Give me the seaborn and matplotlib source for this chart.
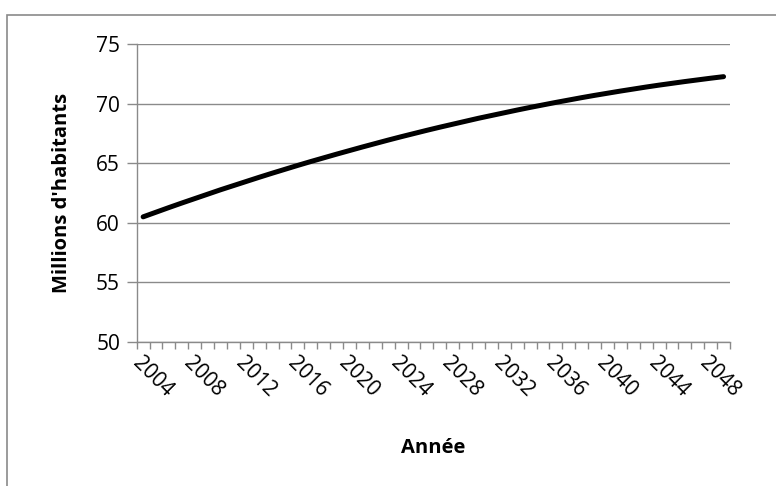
import numpy as np
import pandas as pd
import matplotlib
matplotlib.use("Agg")
import matplotlib.pyplot as plt
from matplotlib.patches import Rectangle
from matplotlib.ticker import FixedLocator
import seaborn as sns

# Population projection (millions)
years = list(range(2004, 2050))
population = [
    60.50, 60.89, 61.28, 61.66, 62.03, 62.40, 62.77, 63.12, 63.47, 63.82,
    64.16, 64.49, 64.82, 65.14, 65.45, 65.76, 66.06, 66.36, 66.65, 66.94,
    67.22, 67.49, 67.76, 68.02, 68.27, 68.52, 68.77, 69.00, 69.23, 69.46,
    69.68, 69.89, 70.10, 70.30, 70.50, 70.69, 70.87, 71.05, 71.22, 71.39,
    71.55, 71.70, 71.85, 71.99, 72.13, 72.26,
]
label_years = list(range(2004, 2050, 4))
y_ticks = [50, 55, 60, 65, 70, 75]

df = pd.DataFrame({"pos": range(len(years)), "annee": years, "pop": population})

sns.set_style("white")
plt.rcParams["font.family"] = ["Open Sans", "DejaVu Sans"]
plt.rcParams["text.color"] = "black"
plt.rcParams["xtick.labelcolor"] = "black"
plt.rcParams["ytick.labelcolor"] = "black"
plt.rcParams["axes.labelcolor"] = "black"

grey = "#8a8a8a"
W, H = 776, 486
fig = plt.figure(figsize=(W / 100, H / 100), dpi=100)

# chart frame (cropped on the right and bottom)
fig.patches.append(Rectangle((7 / W, -0.1), 1.2, 1 - 15 / H + 0.1,
                             transform=fig.transFigure, fill=False,
                             edgecolor=grey, linewidth=1.2))

ax = fig.add_axes([136.7 / W, 1 - 342 / H, (730 - 136.7) / W, (342 - 44) / H])

sns.lineplot(data=df, x="pos", y="pop", ax=ax, color="black", linewidth=3.6,
             solid_capstyle="round")

ax.set_xlim(-0.5, len(years) - 0.5)
ax.set_ylim(50, 75)
ax.set_yticks(y_ticks)
ax.grid(axis="y", color=grey, linewidth=1)
ax.set_axisbelow(True)

for s in ["top", "right"]:
    ax.spines[s].set_visible(False)
for s in ["left", "bottom"]:
    ax.spines[s].set_color(grey)
    ax.spines[s].set_linewidth(1)

ax.set_xticks([years.index(y) for y in label_years])
ax.set_xticklabels([str(y) for y in label_years], rotation=-45, ha="left",
                   va="top", rotation_mode="anchor", fontsize=15)
ax.xaxis.set_minor_locator(FixedLocator(np.arange(-0.5, len(years), 1.0)))
ax.tick_params(axis="x", which="major", length=0, pad=8)
ax.tick_params(axis="x", which="minor", length=5, width=1, color=grey,
               direction="out", bottom=True)
ax.tick_params(axis="y", length=7, width=1, color=grey, direction="out",
               left=True, labelsize=15, pad=5)

ax.set_xlabel("Année", fontsize=14.5, fontweight="bold")
ax.xaxis.set_label_coords(0.5, -0.322)
ax.set_ylabel("Millions d'habitants", fontsize=14.5, fontweight="bold")
ax.yaxis.set_label_coords(-0.109, 0.5)

fig.savefig("out.png", dpi=100)
